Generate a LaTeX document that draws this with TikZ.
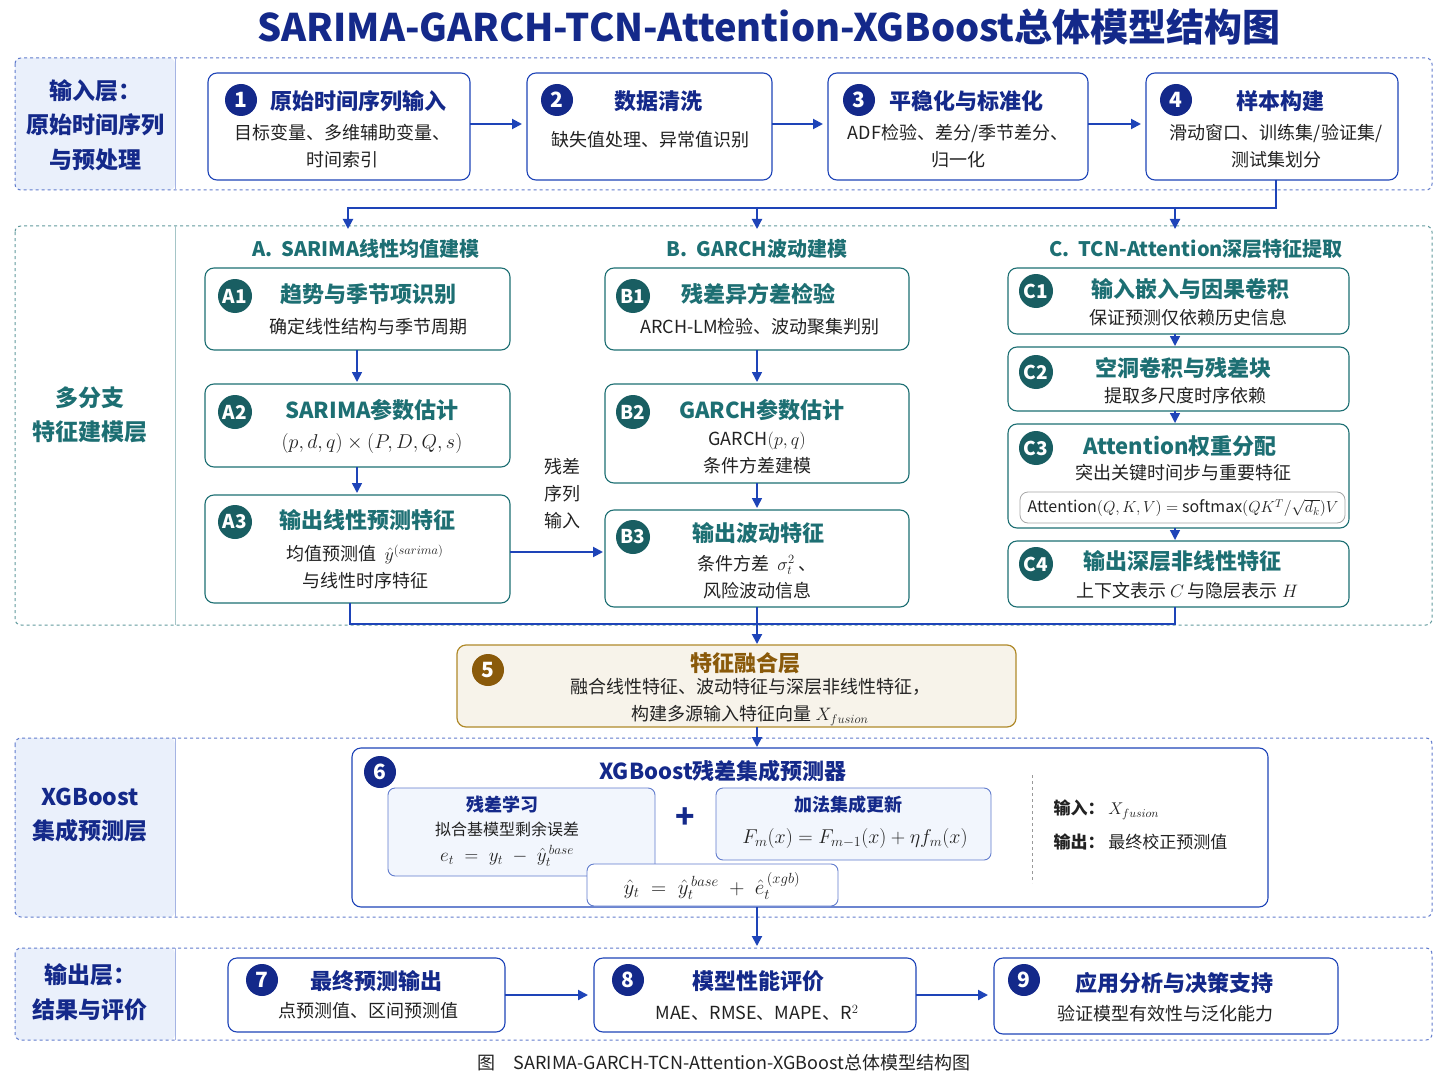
\RequirePackage{fix-cm}
\documentclass[tikz,border=0pt]{standalone}
\usepackage{fontspec}
\setmainfont{Noto Sans CJK SC}
\usepackage{amsmath}
\usetikzlibrary{arrows.meta}
\definecolor{bl}{HTML}{1E44B8}
\definecolor{nv}{HTML}{14298A}
\definecolor{tl}{HTML}{1D6F73}
\definecolor{gd}{HTML}{B08A2A}
\definecolor{gt}{HTML}{8A5A0A}
\definecolor{lf}{HTML}{EAF0FB}
\definecolor{tx}{HTML}{222222}
\newcommand{\fs}[1]{\fontsize{#1pt}{\the\dimexpr#1pt*15/10\relax}\selectfont}
\begin{document}
\begin{tikzpicture}[x=1pt,y=-1pt,
 layer/.style={draw=bl!70,dashed,line width=1pt,rounded corners=6pt},
 bbox/.style={draw=bl,line width=1.1pt,rounded corners=9pt,fill=white},
 tbox/.style={draw=tl,line width=1.1pt,rounded corners=9pt,fill=white},
 num/.style={circle,fill=nv,text=white,minimum size=32pt,inner sep=0pt,font=\fs{21}\bfseries},
 tnum/.style={circle,fill=tl!85!black,text=white,minimum size=34pt,inner sep=0pt,font=\fs{19}\bfseries},
 ttl/.style={text=nv,font=\fs{22}\bfseries},
 tttl/.style={text=tl,font=\fs{22}\bfseries},
 body/.style={text=tx,font=\fs{18},align=center},
 arr/.style={-{Triangle[length=10pt,width=10pt]},draw=bl,line width=2pt},
 lbl/.style={font=\fs{23}\bfseries,align=center}]
\useasboundingbox (0,0) rectangle (1448,1086);
\fill[white] (0,0) rectangle (1448,1086);
\node[text=nv,font=\fs{38}\bfseries] (title) at (769,27) {SARIMA-GARCH-TCN-Attention-XGBoost总体模型结构图};
% layers
\foreach \a/\b in {58/190,738/917,948/1040}{
 \fill[lf,rounded corners=6pt] (15,\a) rectangle (175,\b);
 \draw[layer] (15,\a) rectangle (1432,\b);
 \draw[bl!40,line width=1pt] (175,\a) -- (175,\b);}
\draw[layer,draw=tl!70] (15,226) rectangle (1432,625);
\draw[tl!40,line width=1pt] (175,226) -- (175,625);
\node[lbl,text=nv] (L1) at (95,125) {输入层：\\原始时间序列\\与预处理};
\node[lbl,text=tl] (L2) at (90,415) {多分支\\特征建模层};
\node[lbl,text=nv] (L3) at (90,815) {XGBoost\\集成预测层};
\node[lbl,text=nv] (L4) at (90,992) {输出层：\\结果与评价};
% row 1
\draw[bbox] (208,73) rectangle (470,180); \node[num] (n1) at (241,100) {1};
\node[ttl] (t1) at (358,101) {原始时间序列输入}; \node[body] (b1) at (342,146) {目标变量、多维辅助变量、\\时间索引};
\draw[bbox] (527,73) rectangle (772,180); \node[num] (n2) at (557,100) {2};
\node[ttl] (t2) at (658,101) {数据清洗}; \node[body] (b2) at (650,140) {缺失值处理、异常值识别};
\draw[bbox] (828,73) rectangle (1088,180); \node[num] (n3) at (859,100) {3};
\node[ttl] (t3) at (966,101) {平稳化与标准化}; \node[body] (b3) at (958,146) {ADF检验、差分/季节差分、\\归一化};
\draw[bbox] (1146,73) rectangle (1398,180); \node[num] (n4) at (1176,100) {4};
\node[ttl] (t4) at (1280,101) {样本构建}; \node[body] (b4) at (1276,146) {滑动窗口、训练集/验证集/\\测试集划分};
\coordinate (r1a) at (470,124); \coordinate (r1b) at (522,124);
\draw[arr] (r1a) -- (r1b);
\coordinate (r2a) at (772,124); \coordinate (r2b) at (823,124);
\draw[arr] (r2a) -- (r2b);
\coordinate (r3a) at (1088,124); \coordinate (r3b) at (1141,124);
\draw[arr] (r3a) -- (r3b);
\coordinate (s4) at (1276,180); \coordinate (sp) at (348,208);
\draw[bl,line width=2pt] (s4) |- (sp);
\coordinate (dA) at (348,229); \coordinate (dB) at (757,229); \coordinate (dC) at (1175,229);
\draw[arr] (348,207) -- (dA); \draw[arr] (757,207) -- (dB); \draw[arr] (1175,207) -- (dC);
% headings
\node[text=tl,font=\fs{20}\bfseries] (hA) at (366,249) {A.\ \ SARIMA线性均值建模};
\node[text=tl,font=\fs{20}\bfseries] (hB) at (757,249) {B.\ \ GARCH波动建模};
\node[text=tl,font=\fs{20}\bfseries] (hC) at (1196,249) {C.\ \ TCN-Attention深层特征提取};
% A column
\draw[tbox] (205,268) rectangle (510,350); \node[tnum] (a1) at (235,296) {A1};
\node[tttl] (ta1) at (368,294) {趋势与季节项识别}; \node[body] (ba1) at (368,327) {确定线性结构与季节周期};
\draw[tbox] (205,384) rectangle (510,467); \node[tnum] (a2) at (235,412) {A2};
\node[tttl] (ta2) at (372,410) {SARIMA参数估计}; \node[body,font=\fs{20}] (ba2) at (372,443) {$(p,d,q)\times(P,D,Q,s)$};
\draw[tbox] (205,495) rectangle (510,603); \node[tnum] (a3) at (235,522) {A3};
\node[tttl] (ta3) at (367,520) {输出线性预测特征};
\node[body] (ba3) at (365,567) {均值预测值\ \ $\hat y^{(sarima)}$\\与线性时序特征};
\draw[arr,line width=1.6pt] (357,350) -- (357,382);
\draw[arr,line width=1.6pt] (357,467) -- (357,493);
% B column
\draw[tbox] (605,268) rectangle (909,350); \node[tnum] (b1c) at (633,296) {B1};
\node[tttl] (tb1) at (758,294) {残差异方差检验}; \node[body] (bb1) at (760,327) {ARCH-LM检验、波动聚集判别};
\draw[tbox] (605,384) rectangle (909,483); \node[tnum] (b2c) at (633,412) {B2};
\node[tttl] (tb2) at (762,410) {GARCH参数估计}; \node[body] (bb2) at (757,453) {GARCH$(p,q)$\\条件方差建模};
\draw[tbox] (605,510) rectangle (909,607); \node[tnum] (b3c) at (633,537) {B3};
\node[tttl] (tb3) at (758,533) {输出波动特征}; \node[body] (bb3) at (757,577) {条件方差\ \ $\sigma_t^2$\ 、\\风险波动信息};
\draw[arr,line width=1.6pt] (757,350) -- (757,382);
\draw[arr,line width=1.6pt] (757,483) -- (757,508);
\draw[arr] (510,552) -- (603,552);
\node[body] (res) at (562,494) {残差\\序列\\输入};
% C column
\draw[tbox] (1008,268) rectangle (1349,334); \node[tnum] (c1) at (1036,291) {C1};
\node[tttl] (tc1) at (1190,289) {输入嵌入与因果卷积}; \node[body] (bc1) at (1188,318) {保证预测仅依赖历史信息};
\draw[tbox] (1008,347) rectangle (1349,411); \node[tnum] (c2) at (1036,372) {C2};
\node[tttl] (tc2) at (1183,368) {空洞卷积与残差块}; \node[body] (bc2) at (1185,396) {提取多尺度时序依赖};
\draw[tbox] (1008,424) rectangle (1349,528); \node[tnum] (c3) at (1036,448) {C3};
\node[tttl] (tc3) at (1180,446) {Attention权重分配}; \node[body] (bc3) at (1183,473) {突出关键时间步与重要特征};
\draw[draw=gray!70,rounded corners=8pt,line width=0.8pt] (1020,492) rectangle (1345,523);
\node[body,font=\fs{16}] (att) at (1183,508) {Attention$(Q,K,V)=$ softmax$(QK^T/\sqrt{d_k})V$};
\draw[tbox] (1008,541) rectangle (1349,607); \node[tnum] (c4) at (1036,564) {C4};
\node[tttl] (tc4) at (1182,561) {输出深层非线性特征}; \node[body] (bc4) at (1187,591) {上下文表示\ $C$\ 与隐层表示\ $H$};
\draw[arr,line width=1.4pt] (1175,334) -- (1175,346);
\draw[arr,line width=1.4pt] (1175,411) -- (1175,423);
\draw[arr,line width=1.4pt] (1175,528) -- (1175,540);
% gather
\draw[bl,line width=2pt] (350,603) |- (757,624) -| (1175,607);
\draw[bl,line width=2pt] (757,607) -- (757,624);
\draw[arr] (757,624) -- (757,644);
% box 5
\draw[draw=gd,line width=1.2pt,rounded corners=9pt,fill=gd!10] (457,645) rectangle (1016,727);
\node[circle,fill=gt,text=white,minimum size=32pt,inner sep=0pt,font=\fs{21}\bfseries] (n5) at (488,670) {5};
\node[text=gt,font=\fs{22}\bfseries] (t5) at (745,663) {特征融合层};
\node[body] (b5) at (750,702) {融合线性特征、波动特征与深层非线性特征，\\构建多源输入特征向量\ $X_{fusion}$};
\draw[arr] (757,727) -- (757,747);
% box 6
\draw[bbox] (352,748) rectangle (1268,907); \node[num] (n6) at (380,772) {6};
\node[ttl] (t6) at (723,771) {XGBoost残差集成预测器};
\draw[draw=bl!70,fill=lf!60,rounded corners=7pt,line width=0.9pt] (388,788) rectangle (655,876);
\node[text=nv,font=\fs{18}\bfseries] (t61) at (502,805) {残差学习};
\node[body,font=\fs{16}] (b61) at (507,829) {拟合基模型剩余误差};
\node[body,font=\fs{19}] (f61) at (507,856) {$e_t\;=\;y_t\;-\;\hat y_t^{\,base}$};
\node[text=nv,font=\fs{32}\bfseries] (plus) at (685,818) {+};
\draw[draw=bl!70,fill=lf!60,rounded corners=7pt,line width=0.9pt] (716,788) rectangle (991,860);
\node[text=nv,font=\fs{18}\bfseries] (t62) at (848,805) {加法集成更新};
\node[body,font=\fs{20}] (f62) at (855,838) {$F_m(x)=F_{m-1}(x)+\eta f_m(x)$};
\draw[draw=bl!70,fill=white,rounded corners=7pt,line width=0.9pt] (587,864) rectangle (838,906);
\node[body,font=\fs{21}] (f63) at (712,886) {$\hat y_t\;=\;\hat y_t^{\,base}\;+\;\hat e_t^{\,(xgb)}$};
\draw[gray!80,dashed,line width=0.9pt] (1032,775) -- (1032,883);
\node[anchor=west,text=tx,font=\fs{17}] (in6) at (1050,810) {\textbf{输入：}\ $X_{fusion}$};
\node[anchor=west,text=tx,font=\fs{17}] (out6) at (1050,842) {\textbf{输出：}\ 最终校正预测值};
\draw[arr] (757,907) -- (757,946);
% row 4
\draw[bbox] (228,958) rectangle (505,1032); \node[num] (n7) at (262,980) {7};
\node[ttl] (t7) at (376,981) {最终预测输出}; \node[body] (b7) at (368,1011) {点预测值、区间预测值};
\draw[bbox] (594,958) rectangle (916,1032); \node[num] (n8) at (628,980) {8};
\node[ttl] (t8) at (758,981) {模型性能评价}; \node[body] (b8) at (757,1013) {MAE、RMSE、MAPE、R$^2$};
\draw[bbox] (994,958) rectangle (1338,1034); \node[num] (n9) at (1024,980) {9};
\node[ttl] (t9) at (1174,983) {应用分析与决策支持}; \node[body] (b9) at (1165,1014) {验证模型有效性与泛化能力};
\draw[arr] (505,995) -- (588,995);
\draw[arr] (916,995) -- (988,995);
\node[text=tx,font=\fs{18}] (cap) at (724,1063) {图\quad SARIMA-GARCH-TCN-Attention-XGBoost总体模型结构图};
\end{tikzpicture}
\end{document}
